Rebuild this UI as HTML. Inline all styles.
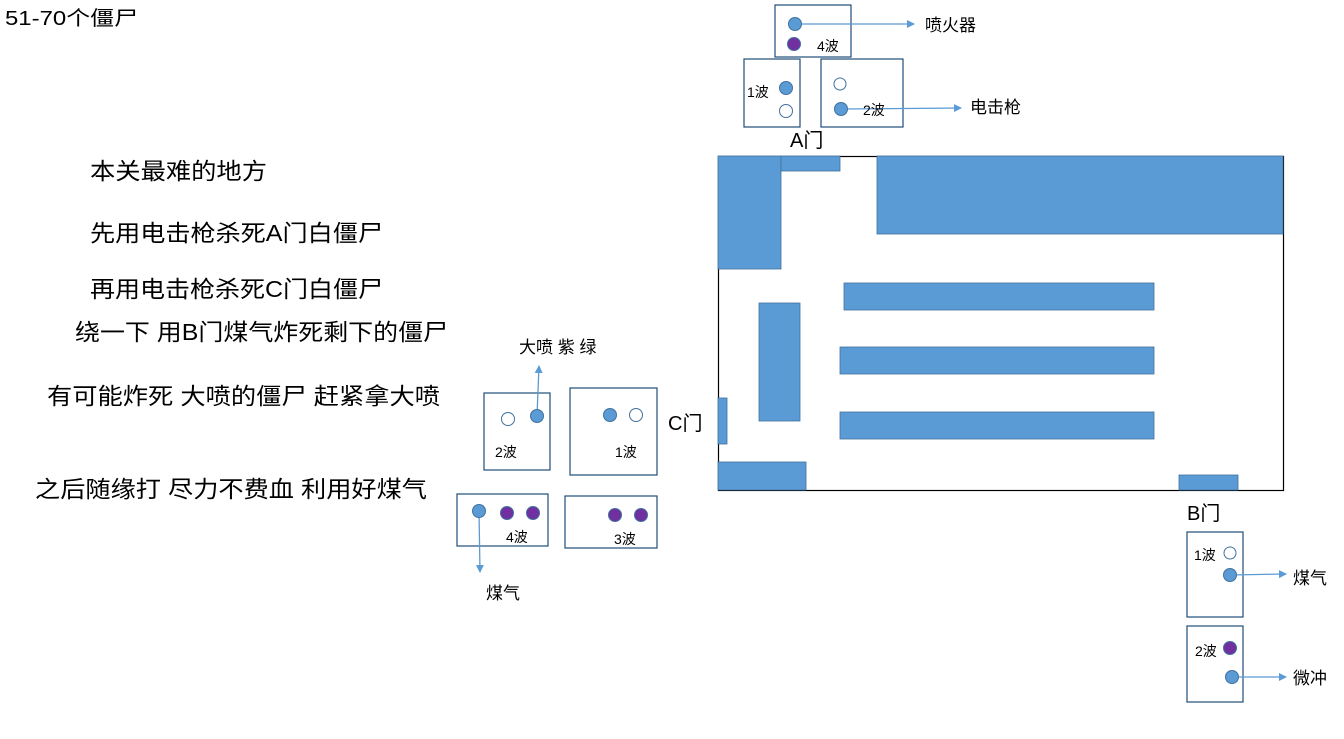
<!DOCTYPE html>
<html><head><meta charset="utf-8"><style>
html,body{margin:0;padding:0;background:#fff;}
svg{display:block;font-family:"Liberation Sans","Noto Sans CJK SC",sans-serif;}
</style></head><body>
<svg width="1344" height="739" viewBox="0 0 1344 739" xmlns="http://www.w3.org/2000/svg">
<defs><marker id="a" markerWidth="8" markerHeight="8" refX="7" refY="4" orient="auto" markerUnits="userSpaceOnUse"><path d="M0,0 L8,4 L0,8 z" fill="#5b9bd5"/></marker></defs>
<g fill="#000">
<text x="5" y="25" font-size="20" textLength="133" lengthAdjust="spacingAndGlyphs">51-70个僵尸</text>
<text x="90" y="179" font-size="23" textLength="177" lengthAdjust="spacingAndGlyphs">本关最难的地方</text>
<text x="90" y="241" font-size="23" textLength="293" lengthAdjust="spacingAndGlyphs">先用电击枪杀死A门白僵尸</text>
<text x="90" y="297" font-size="23" textLength="293" lengthAdjust="spacingAndGlyphs">再用电击枪杀死C门白僵尸</text>
<text x="75" y="340" font-size="23" textLength="373" lengthAdjust="spacingAndGlyphs">绕一下 用B门煤气炸死剩下的僵尸</text>
<text x="47" y="404" font-size="23" textLength="393" lengthAdjust="spacingAndGlyphs">有可能炸死 大喷的僵尸 赶紧拿大喷</text>
<text x="35" y="497" font-size="23" textLength="392" lengthAdjust="spacingAndGlyphs">之后随缘打 尽力不费血 利用好煤气</text>
</g>
<!-- map -->
<rect x="718.5" y="156.5" width="565" height="334" fill="none" stroke="#000" stroke-width="1.2"/>
<g fill="#5b9bd5" stroke="#41719c" stroke-width="0.8">
<rect x="718" y="156" width="63" height="113"/>
<rect x="781" y="156" width="59" height="15"/>
<rect x="877" y="156" width="406" height="78"/>
<rect x="844" y="283" width="310" height="27"/>
<rect x="840" y="347" width="314" height="27"/>
<rect x="840" y="412" width="314" height="27"/>
<rect x="759" y="303" width="41" height="118"/>
<rect x="718" y="398" width="9" height="46"/>
<rect x="718" y="462" width="88" height="28"/>
<rect x="1179" y="475" width="59" height="15"/>
</g>
<g font-size="20" fill="#000">
<text x="790" y="147">A门</text>
<text x="668" y="430">C门</text>
<text x="1187" y="520">B门</text>
</g>
<!-- boxes -->
<g fill="none" stroke="#1f4e79" stroke-width="1.2">
<rect x="775" y="5" width="76" height="52"/>
<rect x="744" y="59" width="56" height="68"/>
<rect x="821" y="59" width="82" height="68"/>
<rect x="484" y="393" width="66" height="77"/>
<rect x="570" y="388" width="87" height="87"/>
<rect x="457" y="494" width="91" height="52"/>
<rect x="565" y="496" width="92" height="52"/>
<rect x="1187" y="532" width="56" height="85"/>
<rect x="1187" y="626" width="56" height="76"/>
</g>
<!-- arrows -->
<g stroke="#5b9bd5" stroke-width="1.3" fill="none">
<line x1="795" y1="24" x2="914" y2="24" marker-end="url(#a)"/>
<line x1="841" y1="109" x2="961" y2="108" marker-end="url(#a)"/>
<line x1="537" y1="416" x2="539" y2="366" marker-end="url(#a)"/>
<line x1="479" y1="511" x2="480" y2="572" marker-end="url(#a)"/>
<line x1="1230" y1="575" x2="1286" y2="574" marker-end="url(#a)"/>
<line x1="1232" y1="677" x2="1286" y2="677" marker-end="url(#a)"/>
</g>
<!-- circles -->
<g stroke="#41719c" stroke-width="1">
<circle cx="795" cy="24" r="6.5" fill="#5b9bd5"/>
<circle cx="794" cy="44" r="6.5" fill="#7030a0"/>
<circle cx="786" cy="88" r="6.5" fill="#5b9bd5"/>
<circle cx="786" cy="111" r="6.5" fill="#fff"/>
<circle cx="840" cy="84" r="6" fill="#fff"/>
<circle cx="841" cy="109" r="6.5" fill="#5b9bd5"/>
<circle cx="508" cy="419" r="6.5" fill="#fff"/>
<circle cx="537" cy="416" r="6.5" fill="#5b9bd5"/>
<circle cx="610" cy="415" r="6.5" fill="#5b9bd5"/>
<circle cx="636" cy="415" r="6.5" fill="#fff"/>
<circle cx="479" cy="511" r="6.5" fill="#5b9bd5"/>
<circle cx="507" cy="513" r="6.5" fill="#7030a0"/>
<circle cx="533" cy="513" r="6.5" fill="#7030a0"/>
<circle cx="615" cy="515" r="6.5" fill="#7030a0"/>
<circle cx="641" cy="515" r="6.5" fill="#7030a0"/>
<circle cx="1230" cy="553" r="6" fill="#fff"/>
<circle cx="1230" cy="575" r="6.5" fill="#5b9bd5"/>
<circle cx="1230" cy="648" r="6.5" fill="#7030a0"/>
<circle cx="1232" cy="677" r="6.5" fill="#5b9bd5"/>
</g>
<g font-size="14" fill="#000">
<text x="817" y="51">4波</text>
<text x="747" y="97">1波</text>
<text x="863" y="115">2波</text>
<text x="495" y="457">2波</text>
<text x="615" y="457">1波</text>
<text x="506" y="542">4波</text>
<text x="614" y="544">3波</text>
<text x="1194" y="560">1波</text>
<text x="1195" y="656">2波</text>
</g>
<g font-size="17" fill="#000">
<text x="925" y="31">喷火器</text>
<text x="970" y="113">电击枪</text>
<text x="519" y="353">大喷 紫 绿</text>
<text x="486" y="599">煤气</text>
<text x="1293" y="584">煤气</text>
<text x="1293" y="684">微冲</text>
</g>
</svg>
</body></html>
